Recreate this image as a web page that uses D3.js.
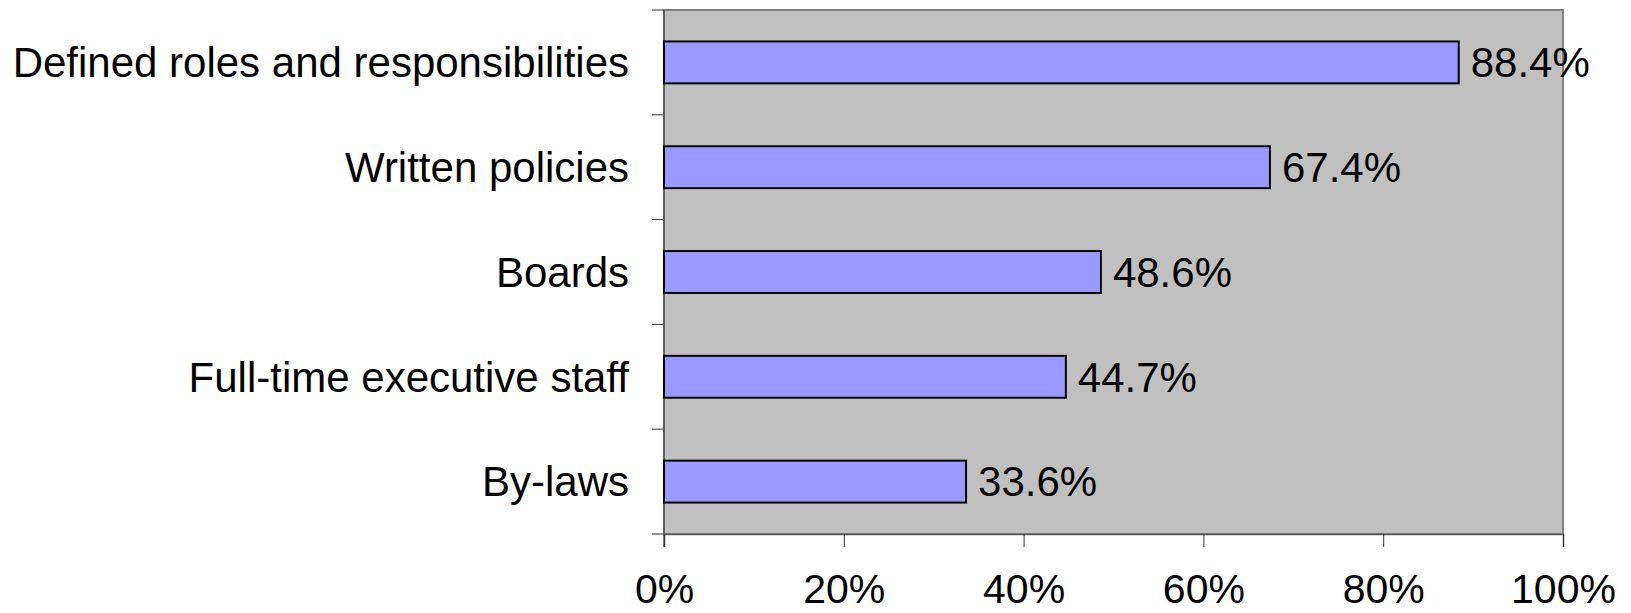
<!DOCTYPE html>
<html>
<head>
<meta charset="utf-8">
<script src="https://cdn.jsdelivr.net/npm/d3@7"></script>
<style>
  body { margin: 0; background: #fff; }
  text { font-family: "Liberation Sans", Arial, sans-serif; }
</style>
</head>
<body>
<div id="plot"></div>
<script>
const categories = ["Defined roles and responsibilities", "Written policies", "Boards", "Full-time executive staff", "By-laws"];
const values = [88.4, 67.4, 48.6, 44.7, 33.6];
const tickValues = [0, 20, 40, 60, 80, 100];

const data = categories.map((c, i) => ({ name: c, value: values[i] }));

const margin = { top: 10, right: 68, bottom: 79, left: 664 },
      width = 1631 - margin.left - margin.right,
      height = 613 - margin.top - margin.bottom;

const svg = d3.select("div#plot").append("svg")
    .attr("width", 1631)
    .attr("height", 613)
  .append("g")
    .attr("transform", `translate(${margin.left},${margin.top})`);

const x = d3.scaleLinear().domain([0, 100]).range([0, width]);
const y = d3.scaleBand().domain(categories).range([0, height]).paddingInner(0.6).paddingOuter(0.3);

// plot area
svg.append("rect")
    .attr("x", 0).attr("y", 0)
    .attr("width", width).attr("height", height)
    .attr("fill", "#c0c0c0")
    .attr("stroke", "#808080")
    .attr("stroke-width", 2);

// y axis line + ticks at category boundaries
const step = height / categories.length;
svg.append("line")
    .attr("x1", 0).attr("x2", 0)
    .attr("y1", 0).attr("y2", height + 13)
    .attr("stroke", "#555").attr("stroke-width", 1.5);
d3.range(categories.length + 1).forEach(i => {
  svg.append("line")
      .attr("x1", -12).attr("x2", 0)
      .attr("y1", i * step).attr("y2", i * step)
      .attr("stroke", "#333").attr("stroke-width", 1);
});

// x axis
const xAxis = svg.append("g")
    .attr("transform", `translate(0,${height})`)
    .call(d3.axisBottom(x).tickValues(tickValues).tickFormat(d => d + "%").tickSize(13).tickPadding(27));
xAxis.select(".domain").attr("stroke", "#555").attr("stroke-width", 1.5);
xAxis.selectAll(".tick line").attr("stroke", "#333");
xAxis.selectAll("text").attr("font-size", 41).attr("fill", "#000")
    .style("font-family", '"Liberation Sans", Arial, sans-serif');

// category labels
svg.selectAll(".cat")
  .data(data)
  .enter().append("text")
    .attr("class", "cat")
    .attr("x", -35)
    .attr("y", d => y(d.name) + y.bandwidth() / 2)
    .attr("dy", "0.35em")
    .attr("text-anchor", "end")
    .attr("font-size", 42)
    .text(d => d.name);

// bars
svg.selectAll(".bar")
  .data(data)
  .enter().append("rect")
    .attr("class", "bar")
    .attr("x", 0)
    .attr("y", d => y(d.name))
    .attr("width", d => x(d.value))
    .attr("height", y.bandwidth())
    .attr("fill", "#9999ff")
    .attr("stroke", "#000")
    .attr("stroke-width", 2);

// value labels
svg.selectAll(".val")
  .data(data)
  .enter().append("text")
    .attr("class", "val")
    .attr("x", d => x(d.value) + 12)
    .attr("y", d => y(d.name) + y.bandwidth() / 2)
    .attr("dy", "0.35em")
    .attr("font-size", 42)
    .text(d => d.value.toFixed(1) + "%");
</script>
</body>
</html>
